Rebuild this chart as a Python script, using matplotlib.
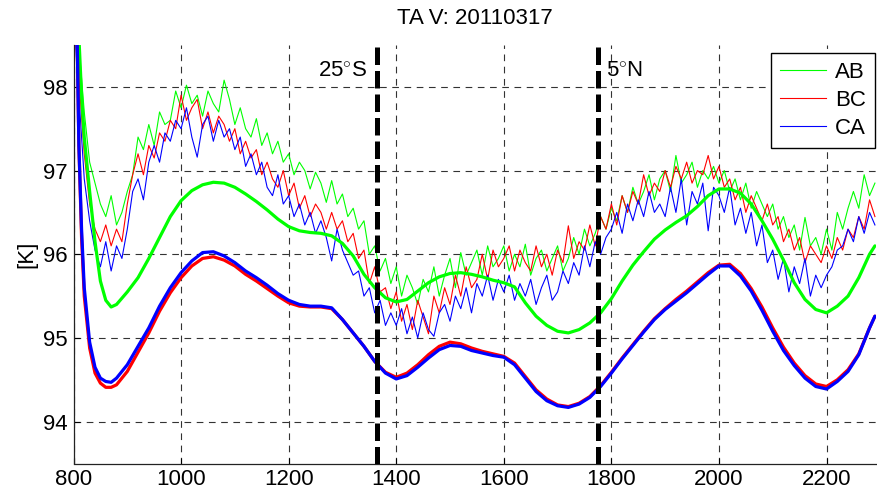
import numpy as np
import matplotlib
matplotlib.use("Agg")
import matplotlib.pyplot as plt

# ---------------- data ----------------
x_noisy = list(range(800, 2300, 10))

ab_noisy = [
    99.3, 98.5, 97.7, 97.1, 96.85, 96.6, 96.45, 96.7, 96.35, 96.5,
    96.75, 96.95, 97.4, 97.25, 97.55, 97.3, 97.7, 97.55, 97.6, 97.95,
    97.75, 98.02, 97.8, 97.9, 97.65, 97.95, 97.8, 97.7, 98.08, 97.85,
    97.55, 97.75, 97.5, 97.4, 97.62, 97.3, 97.45, 97.2, 97.35, 97.1,
    97.2, 96.95, 97.1, 97.0, 96.78, 96.98, 96.85, 96.62, 96.88, 96.6,
    96.72, 96.45, 96.55, 96.3, 96.4, 96.0, 96.1, 95.8, 95.95, 95.65,
    95.85, 95.5, 95.75, 95.6, 95.4, 95.7, 95.55, 95.85, 95.5, 95.75,
    95.95, 95.6, 96.02, 95.75, 95.9, 96.05, 95.75, 96.1, 95.85, 95.95,
    96.1, 95.8, 96.0, 95.85, 96.12, 95.75, 95.95, 96.05, 95.8, 95.95,
    96.1, 95.8, 95.95, 96.2, 96.0, 96.3, 96.1, 96.25, 96.45, 96.3,
    96.55, 96.4, 96.7, 96.5, 96.8, 96.6, 96.75, 96.95, 96.65, 96.9,
    97.0, 96.75, 97.18, 96.85, 96.95, 97.1, 96.8, 97.0, 96.9, 97.05,
    96.85, 97.0, 96.75, 96.9, 96.65, 96.85, 96.55, 96.75, 96.6, 96.45,
    96.6, 96.3, 96.45, 96.2, 96.35, 96.05, 96.44, 96.1, 96.2, 96.0,
    96.3, 96.05, 96.5, 96.3, 96.55, 96.75, 96.55, 96.95, 96.7, 96.85,
]

bc_noisy = [
    99.1, 98.1, 97.2, 96.6, 96.3, 96.15, 96.35, 96.1, 96.3, 96.15,
    96.6, 96.95, 97.2, 96.95, 97.3, 97.15, 97.45, 97.35, 97.6, 97.5,
    97.9, 97.6, 97.75, 97.85, 97.5, 97.7, 97.45, 97.65, 97.55, 97.35,
    97.5, 97.2, 97.35, 97.15, 97.25, 96.95, 97.1, 96.9, 96.8, 97.0,
    96.7, 96.85, 96.55, 96.7, 96.45, 96.6, 96.5, 96.3, 96.5, 96.3,
    96.4, 96.15, 96.25, 95.95, 96.05, 95.65, 95.85, 95.55, 95.6, 95.35,
    95.55, 95.2, 95.4, 95.1, 95.45, 95.25, 95.05, 95.5, 95.3, 95.6,
    95.4, 95.75, 95.5, 95.85, 95.6, 95.7, 96.0, 95.7, 96.05, 95.85,
    95.95, 96.1, 95.8, 96.05, 95.9, 95.8, 96.1, 95.85, 96.0, 95.75,
    96.05, 95.9, 96.34, 95.95, 96.15, 96.05, 96.35, 96.1, 96.45, 96.3,
    96.6, 96.35, 96.7, 96.5, 96.75, 96.6, 96.95, 96.7, 96.85, 96.75,
    97.0, 96.8, 97.05, 96.9, 97.1, 96.85, 97.0, 96.95, 97.18, 96.9,
    97.05, 96.8, 96.9, 96.65, 96.8, 96.5, 96.7, 96.55, 96.4, 96.6,
    96.35, 96.45, 96.15, 96.3, 96.05, 96.2, 95.9, 96.1, 96.0, 95.9,
    96.1, 95.95, 96.2, 96.05, 96.3, 96.2, 96.45, 96.3, 96.65, 96.45,
]

ca_noisy = [
    98.9, 97.9, 96.9, 96.4, 96.05, 95.85, 96.15, 95.8, 96.1, 95.95,
    96.3, 96.75, 96.9, 96.65, 97.1, 97.3, 97.1, 97.45, 97.35, 97.6,
    97.5, 97.75, 97.4, 97.16, 97.55, 97.65, 97.35, 97.6, 97.4, 97.5,
    97.25, 97.4, 97.05, 97.2, 96.95, 97.1, 96.8, 96.7, 96.95, 96.6,
    96.7, 96.45, 96.6, 96.35, 96.5, 96.25, 96.4, 96.2, 95.92, 96.3,
    96.05, 95.9, 95.75, 95.8, 95.5, 95.6, 95.3, 95.45, 95.15, 95.3,
    95.15, 95.35, 95.05, 95.25, 95.0, 95.3, 95.1, 95.02, 95.3, 95.4,
    95.2, 95.5, 95.35, 95.6, 95.3, 95.65, 95.5, 95.75, 95.45, 95.7,
    95.55, 95.75, 95.45, 95.65, 95.5, 95.7, 95.4, 95.6, 95.75, 95.45,
    95.55, 95.8, 95.65, 95.9, 95.75, 96.1, 95.85, 96.15, 96.0, 96.2,
    96.3, 96.5, 96.25, 96.6, 96.4, 96.65, 96.45, 96.75, 96.5, 96.6,
    96.45, 96.8, 96.5, 96.9, 96.35, 96.75, 96.6, 96.85, 96.28, 96.8,
    96.7, 96.5, 96.8, 96.35, 96.55, 96.25, 96.5, 96.1, 96.35, 95.9,
    96.05, 95.7, 95.95, 95.55, 95.85, 95.65, 95.95, 95.5, 95.75, 95.6,
    95.75, 95.85, 96.05, 96.1, 96.3, 96.15, 96.45, 96.25, 96.5, 96.35,
]

x_smooth = [800, 805, 810, 815, 820, 830, 840, 850, 860, 870] + list(range(880, 2281, 20)) + [2290]

ab_smooth = [
    100.5, 99.6, 98.6, 97.9, 97.4, 96.75, 96.15, 95.68, 95.45, 95.37,
    95.40, 95.55, 95.72, 95.95, 96.20, 96.45, 96.64, 96.76, 96.83, 96.86,
    96.85, 96.80, 96.72, 96.63, 96.53, 96.42, 96.33, 96.28, 96.26, 96.25,
    96.22, 96.13, 95.98, 95.76, 95.60, 95.48, 95.43, 95.46, 95.56, 95.66,
    95.73, 95.77, 95.78, 95.76, 95.73, 95.69, 95.66, 95.61, 95.42, 95.26,
    95.15, 95.08, 95.06, 95.10, 95.18, 95.30, 95.47, 95.68, 95.87, 96.03,
    96.18, 96.29, 96.38, 96.46, 96.57, 96.70, 96.78, 96.78, 96.73, 96.60,
    96.40, 96.18, 95.93, 95.66, 95.46, 95.34, 95.30, 95.38, 95.50, 95.72,
    96.00, 96.10,
]

bc_smooth = [
    100.0, 99.3, 97.3, 96.2, 95.5, 94.88, 94.58, 94.46, 94.41, 94.41,
    94.44, 94.60, 94.83, 95.06, 95.32, 95.54, 95.72, 95.86, 95.95, 95.97,
    95.93, 95.86, 95.76, 95.68, 95.59, 95.50, 95.42, 95.38, 95.37, 95.37,
    95.35, 95.22, 95.06, 94.90, 94.72, 94.59, 94.53, 94.58, 94.68, 94.80,
    94.90, 94.95, 94.93, 94.88, 94.84, 94.81, 94.78, 94.70, 94.54, 94.38,
    94.27, 94.20, 94.18, 94.22, 94.30, 94.43, 94.59, 94.76, 94.92, 95.08,
    95.23, 95.35, 95.46, 95.56, 95.67, 95.78, 95.87, 95.88, 95.77, 95.59,
    95.37, 95.12, 94.89, 94.70, 94.55, 94.45, 94.42, 94.50, 94.62, 94.81,
    95.12, 95.26,
]

ca_smooth = [
    100.0, 99.3, 97.3, 96.3, 95.6, 94.95, 94.65, 94.52, 94.48, 94.47,
    94.52, 94.68, 94.90, 95.12, 95.38, 95.60, 95.78, 95.92, 96.02, 96.03,
    95.98, 95.90, 95.80, 95.72, 95.63, 95.53, 95.45, 95.40, 95.38, 95.38,
    95.36, 95.22, 95.06, 94.90, 94.72, 94.58, 94.51, 94.55, 94.65, 94.76,
    94.86, 94.91, 94.90, 94.85, 94.82, 94.79, 94.77, 94.68, 94.52, 94.36,
    94.25, 94.19, 94.17, 94.21, 94.29, 94.42, 94.58, 94.75, 94.91, 95.07,
    95.22, 95.34, 95.44, 95.54, 95.65, 95.76, 95.86, 95.86, 95.74, 95.56,
    95.33, 95.08, 94.85, 94.67, 94.52, 94.42, 94.39, 94.48, 94.60, 94.80,
    95.12, 95.26,
]

series_names = ["AB", "BC", "CA"]
series_colors = ["#00ff00", "#ff0000", "#0000ff"]
marker_x = [1364, 1776]
marker_labels = ["25$^{\\circ}$S", "5$^{\\circ}$N"]
x_ticks = [800, 1000, 1200, 1400, 1600, 1800, 2000, 2200]
y_ticks = [94, 95, 96, 97, 98]
title = "TA V: 20110317"

# ---------------- plot ----------------
plt.rcParams['font.family'] = ['Liberation Sans', 'DejaVu Sans']
plt.rcParams['mathtext.fontset'] = 'custom'
plt.rcParams['mathtext.rm'] = 'Liberation Sans'
FS = 16

W, H = 877, 493
fig = plt.figure(figsize=(W / 100, H / 100), dpi=100)
ax = fig.add_axes([73.5 / W, (H - 463.5) / H, 802.5 / W, (463.5 - 45) / H])

noisy = [ab_noisy, bc_noisy, ca_noisy]
smooth = [ab_smooth, bc_smooth, ca_smooth]
for name, col, ys in zip(series_names, series_colors, noisy):
    ax.plot(x_noisy, ys, color=col, lw=0.8, label=name, zorder=3)
for col, ys in zip(series_colors, smooth):
    ax.plot(x_smooth, ys, color=col, lw=2.3, zorder=4, solid_capstyle='round')

for xm in marker_x:
    ax.axvline(xm, color='black', lw=3.6, dashes=(3.5, 1.2), zorder=5)

ax.text(marker_x[0] - 18, 98.18, marker_labels[0], ha='right', va='center', fontsize=FS)
ax.text(marker_x[1] + 14, 98.18, marker_labels[1], ha='left', va='center', fontsize=FS)

ax.set_xlim(800, 2292)
ax.set_ylim(93.5, 98.5)
ax.set_xticks(x_ticks)
ax.set_yticks(y_ticks)
ax.tick_params(direction='in', length=4, labelsize=FS, pad=4)
ax.grid(True, color='#333333', lw=0.8, dashes=(6, 5))
for s in ['top', 'right']:
    ax.spines[s].set_visible(False)
for s in ['left', 'bottom']:
    ax.spines[s].set_color('#222222')
    ax.spines[s].set_linewidth(0.9)

ax.set_ylabel('[K]', fontsize=FS, labelpad=4)
fig.text(475 / W, 1 - 19 / H, title, ha='center', va='center', fontsize=FS)

leg = ax.legend(loc='upper right', fontsize=FS, frameon=True, fancybox=False,
                edgecolor='black', framealpha=1, borderaxespad=0.0,
                handlelength=2.1, handletextpad=0.4, borderpad=0.4,
                labelspacing=0.32, bbox_to_anchor=(875 / W, 1 - 53 / H),
                bbox_transform=fig.transFigure)
leg.get_frame().set_linewidth(1.0)

fig.savefig('out.png', dpi=100)
